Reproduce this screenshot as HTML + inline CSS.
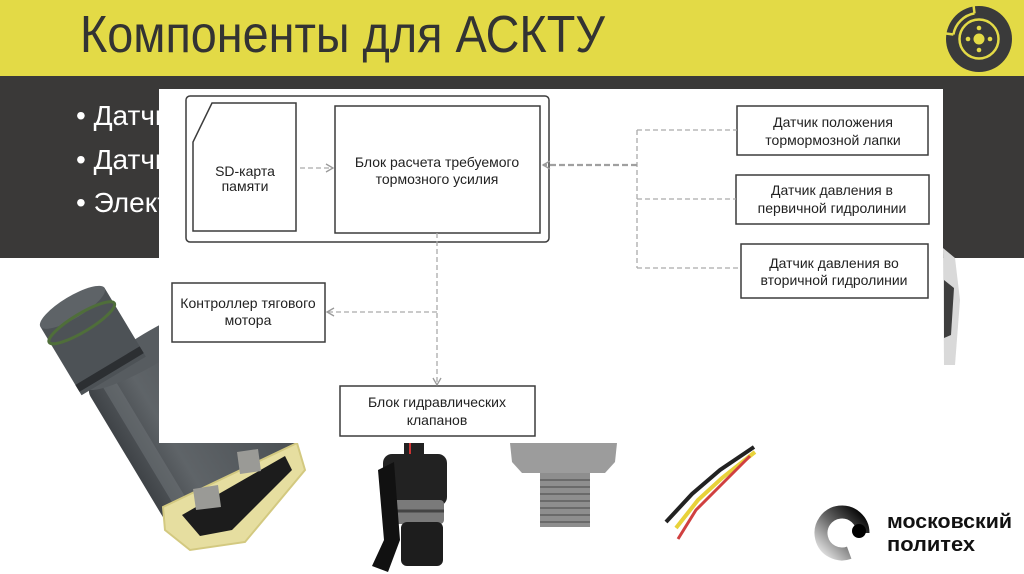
<!DOCTYPE html>
<html><head><meta charset="utf-8"><style>
html,body{margin:0;padding:0;background:#fff;width:1024px;height:574px;overflow:hidden}
svg{display:block}
text{font-family:"Liberation Sans","DejaVu Sans",sans-serif}
</style></head><body>
<svg width="1024" height="574" viewBox="0 0 1024 574" xmlns="http://www.w3.org/2000/svg">
<defs>
<linearGradient id="mg" x1="1" y1="0" x2="0" y2="1">
<stop offset="0" stop-color="#000"/><stop offset="0.5" stop-color="#666"/><stop offset="1" stop-color="#e4e4e4"/>
</linearGradient>
<linearGradient id="bodyg" x1="0" y1="0" x2="1" y2="0">
<stop offset="0" stop-color="#3f4347"/><stop offset="0.3" stop-color="#5f6468"/><stop offset="1" stop-color="#4a4f53"/>
</linearGradient>
<marker id="ah" markerWidth="10" markerHeight="10" refX="8" refY="5" orient="auto" markerUnits="userSpaceOnUse">
<path d="M1,1 L8,5 L1,9" fill="none" stroke="#999" stroke-width="1.3"/>
</marker>
</defs>
<rect x="0" y="0" width="1024" height="574" fill="#fff"/>
<!-- yellow header -->
<rect x="0" y="0" width="1024" height="76" fill="#e3da46"/>
<text x="80" y="52" font-size="52" fill="#333" textLength="525" lengthAdjust="spacingAndGlyphs">Компоненты для АСКТУ</text>
<!-- brake logo -->
<circle cx="979" cy="39" r="33" fill="#3a3a3a"/>
<path d="M 953.4 34.5 A 26 26 0 0 1 974.5 13.4" fill="none" stroke="#e3da46" stroke-width="2.5"/>
<line x1="953.4" y1="34.5" x2="946" y2="33.5" stroke="#e3da46" stroke-width="2.5"/>
<line x1="974.5" y1="13.4" x2="973.5" y2="5" stroke="#e3da46" stroke-width="2.5"/>
<circle cx="979" cy="39" r="19.5" fill="none" stroke="#e3da46" stroke-width="2.5"/>
<circle cx="979" cy="39" r="5.5" fill="#e3da46"/>
<circle cx="979" cy="28" r="2.3" fill="#e3da46"/>
<circle cx="979" cy="50" r="2.3" fill="#e3da46"/>
<circle cx="968" cy="39" r="2.3" fill="#e3da46"/>
<circle cx="990" cy="39" r="2.3" fill="#e3da46"/>
<!-- dark band -->
<rect x="0" y="76" width="1024" height="182" fill="#3a3938"/>
<text x="76" y="125" font-size="28" fill="#fff">• Датчик</text>
<text x="76" y="169" font-size="28" fill="#fff">• Датчик</text>
<text x="76" y="212" font-size="28" fill="#fff">• Электро</text>

<!-- photos -->
<!-- solenoid -->
<g transform="rotate(-31 189 410)">
<rect x="111.5" y="337.5" width="155" height="160" rx="10" fill="url(#bodyg)"/>
<rect x="127" y="345" width="14" height="145" fill="#6e7377" opacity="0.55"/>
<ellipse cx="189" cy="337.5" rx="77.5" ry="16" fill="#575c60"/>
<rect x="104.5" y="262" width="75" height="80" fill="#4d5256"/>
<rect x="104.5" y="330" width="75" height="8" fill="#2c2f32"/>
<ellipse cx="142" cy="262" rx="37.5" ry="11" fill="#5e6367"/>
<ellipse cx="142" cy="280" rx="38" ry="9" fill="none" stroke="#4f6e3a" stroke-width="3"/>
</g>
<!-- yellow connector -->
<polygon points="163,507 297,443 305,470 245,542 190,550 165,530" fill="#e6dea0" stroke="#d3c980" stroke-width="2"/>
<polygon points="182,515 285,456 292,470 232,530 200,536" fill="#1c1c1c"/>
<polygon points="193,489 218,485 221,507 196,510" fill="#9a9a96"/>
<polygon points="237,452 258,449 261,471 240,474" fill="#9a9a96"/>
<!-- black connector -->
<rect x="404" y="443" width="20" height="14" fill="#222"/>
<line x1="410" y1="443" x2="410" y2="456" stroke="#c33" stroke-width="2"/>
<rect x="383" y="454" width="64" height="52" rx="9" fill="#222"/>
<rect x="387" y="500" width="57" height="24" rx="4" fill="#7a7a7a"/>
<line x1="387" y1="511" x2="444" y2="511" stroke="#444" stroke-width="3"/>
<rect x="401" y="522" width="42" height="44" rx="6" fill="#1d1d1d"/>
<path d="M378,470 L394,462 L400,540 L388,572 L372,566 L384,540 Z" fill="#111"/>
<!-- pressure sensor -->
<polygon points="510,443 617,443 615,462 605,473 522,473 512,462" fill="#9c9c9c"/>
<rect x="540" y="473" width="50" height="54" fill="#8e8e8e"/>
<g stroke="#6a6a6a" stroke-width="2">
<line x1="540" y1="480" x2="590" y2="480"/><line x1="540" y1="487" x2="590" y2="487"/>
<line x1="540" y1="494" x2="590" y2="494"/><line x1="540" y1="501" x2="590" y2="501"/>
<line x1="540" y1="508" x2="590" y2="508"/><line x1="540" y1="515" x2="590" y2="515"/>
<line x1="540" y1="522" x2="590" y2="522"/>
</g>
<!-- wires -->
<polyline points="754,447 720,470 692,494 666,522" fill="none" stroke="#222" stroke-width="4"/>
<polyline points="755,452 722,478 698,500 676,528" fill="none" stroke="#e8d23a" stroke-width="4"/>
<polyline points="750,456 720,486 696,510 678,539" fill="none" stroke="#d04040" stroke-width="3"/>
<!-- right fragment -->
<polygon points="943,248 955,258 960,300 955,365 944,365" fill="#d9d9d9"/>
<polygon points="944,280 954,288 951,335 944,338" fill="#3e3e3e"/>

<!-- white diagram panel -->
<rect x="159" y="89" width="784" height="354" fill="#fff"/>
<g fill="none" stroke="#3c3c3c" stroke-width="1.5">
<rect x="186" y="96" width="363" height="146" rx="4"/>
<polygon points="212,103 296,103 296,231 193,231 193,142"/>
<rect x="335" y="106" width="205" height="127"/>
<rect x="737" y="106" width="191" height="49"/>
<rect x="736" y="175" width="193" height="49"/>
<rect x="741" y="244" width="187" height="54"/>
<rect x="172" y="283" width="153" height="59"/>
<rect x="340" y="386" width="195" height="50"/>
</g>
<!-- connectors -->
<g fill="none" stroke="#aaa" stroke-width="1.3" stroke-dasharray="5,3">
<line x1="637" y1="130" x2="637" y2="268"/>
<line x1="637" y1="130" x2="737" y2="130"/>
<line x1="637" y1="199" x2="736" y2="199"/>
<line x1="637" y1="268" x2="741" y2="268"/>
<line x1="300" y1="168" x2="333" y2="168" marker-end="url(#ah)"/>
<line x1="437" y1="233" x2="437" y2="385" marker-end="url(#ah)"/>
<line x1="437" y1="312" x2="327" y2="312" marker-end="url(#ah)"/>
</g>
<line x1="637" y1="165" x2="543" y2="165" stroke="#a0a0a0" stroke-width="2.2" stroke-dasharray="6,3" marker-end="url(#ah)"/>
<!-- labels -->
<g font-size="14" fill="#222" text-anchor="middle">
<text x="245" y="176">SD-карта</text>
<text x="245" y="191">памяти</text>
<text x="437" y="167">Блок расчета требуемого</text>
<text x="437" y="184">тормозного усилия</text>
<text x="833" y="127">Датчик положения</text>
<text x="833" y="145">тормормозной лапки</text>
<text x="832" y="195">Датчик давления в</text>
<text x="832" y="213">первичной гидролинии</text>
<text x="834" y="268">Датчик давления во</text>
<text x="834" y="285">вторичной гидролинии</text>
<text x="248" y="308">Контроллер тягового</text>
<text x="248" y="325">мотора</text>
<text x="437" y="407">Блок гидравлических</text>
<text x="437" y="425">клапанов</text>
</g>

<!-- Moscow Polytech logo -->
<path d="M 849.2 552.7 A 21 21 0 1 1 863 533" fill="none" stroke="url(#mg)" stroke-width="13"/>
<circle cx="859" cy="531" r="7" fill="#000"/>
<text x="887" y="528" font-size="20" font-weight="bold" fill="#111" textLength="125" lengthAdjust="spacingAndGlyphs">московский</text>
<text x="887" y="551" font-size="20" font-weight="bold" fill="#111" textLength="88" lengthAdjust="spacingAndGlyphs">политех</text>
</svg>
</body></html>
